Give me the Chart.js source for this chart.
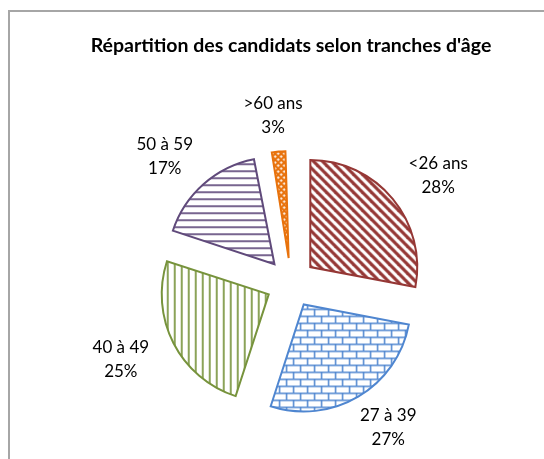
<!DOCTYPE html>
<html>
<head>
<meta charset="utf-8">
<script src="https://cdn.jsdelivr.net/npm/chart.js@4"></script>
<style>
  html, body { margin: 0; padding: 0; background: #fff; overflow: hidden; width: 544px; height: 459px; }
  #frame { position: absolute; left: 8px; top: 10px; width: 600px; height: 520px; border: 2px solid #a6a6a6; box-sizing: border-box; }
  #c { position: absolute; left: 0; top: 0; }
</style>
</head>
<body>
<div id="frame"></div>
<canvas id="c" width="544" height="459"></canvas>
<script>
// ---- data ----
const chartTitle = "Répartition des candidats selon tranches d'âge";
const categories = ['<26 ans', '27 à 39', '40 à 49', '50 à 59', '>60 ans'];
const percentages = [28, 27, 25, 17, 3];
const percentLabels = percentages.map(v => v + '%');

// ---- styles ----
const colors = ['#953735', '#4F86D0', '#77933C', '#604A7B', '#E8720C'];
const canvas = document.getElementById('c');
const ctx = canvas.getContext('2d');

function tile(w, h, bg, draw) {
  const c = document.createElement('canvas');
  c.width = w; c.height = h;
  const g = c.getContext('2d');
  g.fillStyle = bg; g.fillRect(0, 0, w, h);
  draw(g);
  return ctx.createPattern(c, 'repeat');
}
const patterns = [
  // wide downward diagonal
  tile(9, 9, '#fff', g => {
    g.strokeStyle = colors[0]; g.lineWidth = 3.2;
    for (let k = -1; k <= 1; k++) {
      g.beginPath(); g.moveTo(k * 9 - 2, -2); g.lineTo(k * 9 + 11, 11); g.stroke();
    }
  }),
  // horizontal brick
  tile(14, 14, '#fff', g => {
    g.strokeStyle = colors[1]; g.lineWidth = 1.5;
    g.beginPath();
    g.moveTo(0, 0.75); g.lineTo(14, 0.75);
    g.moveTo(0, 7.75); g.lineTo(14, 7.75);
    g.moveTo(0.75, 0); g.lineTo(0.75, 7.75);
    g.moveTo(7.75, 7.75); g.lineTo(7.75, 14);
    g.stroke();
  }),
  // vertical lines
  tile(7, 7, '#fff', g => {
    g.fillStyle = colors[2]; g.globalAlpha = 0.85; g.fillRect(0, 0, 2, 7);
  }),
  // horizontal lines
  tile(7, 7, '#fff', g => {
    g.fillStyle = colors[3]; g.globalAlpha = 0.85; g.fillRect(0, 0, 7, 2);
  }),
  // trellis
  tile(6, 6, colors[4], g => {
    g.fillStyle = '#fff';
    [[1.5, 1.5], [4.5, 4.5]].forEach(([x, y]) => {
      g.beginPath(); g.moveTo(x, y - 1.4); g.lineTo(x + 1.4, y); g.lineTo(x, y + 1.4); g.lineTo(x - 1.4, y); g.closePath(); g.fill();
    });
  })
];

const EXPLODE = 25;      // px each slice is pulled out
const LABEL_RX = 191, LABEL_RY = 168;

// keep radius constant for exploded slices (Chart.js grows small slices)
const keepRadius = {
  id: 'keepRadius',
  beforeDatasetsDraw(chart) {
    const meta = chart.getDatasetMeta(0);
    const R = meta.controller.outerRadius;
    meta.data.forEach(arc => {
      const off = (arc.options.offset || 0) / 4;
      const fix = 1 - Math.sin(Math.min(Math.PI, arc.circumference));
      arc.outerRadius = R - off * fix;
    });
  }
};

const sliceLabels = {
  id: 'sliceLabels',
  afterDatasetsDraw(chart) {
    const c = chart.ctx;
    const meta = chart.getDatasetMeta(0);
    c.save();
    c.font = '17px Lato';
    c.fillStyle = '#000';
    c.textAlign = 'center';
    c.textBaseline = 'middle';
    meta.data.forEach((arc, i) => {
      const a = (arc.startAngle + arc.endAngle) / 2;
      const x = arc.x + Math.cos(a) * LABEL_RX;
      const y = arc.y + Math.sin(a) * LABEL_RY;
      c.fillText(categories[i], x, y - 12);
      c.fillText(percentLabels[i], x, y + 12);
    });
    c.restore();
  }
};

new Chart(ctx, {
  type: 'pie',
  data: {
    labels: categories,
    datasets: [{
      data: percentages,
      backgroundColor: patterns,
      borderColor: colors,
      borderWidth: 2,
      borderJoinStyle: 'miter',
      offset: EXPLODE * 4,
      hoverOffset: 0,
      radius: 107
    }]
  },
  options: {
    responsive: false,
    animation: false,
    events: [],
    layout: { padding: { left: 38, right: 0, top: 0, bottom: 0 } },
    plugins: {
      legend: { display: false },
      tooltip: { enabled: false },
      title: {
        display: true,
        text: chartTitle,
        color: '#000',
        font: { family: 'Lato', size: 19.5, weight: 'bold', lineHeight: 1.2 },
        padding: { top: 34.3, bottom: 49.3 }
      }
    }
  },
  plugins: [keepRadius, sliceLabels]
});
</script>
</body>
</html>
